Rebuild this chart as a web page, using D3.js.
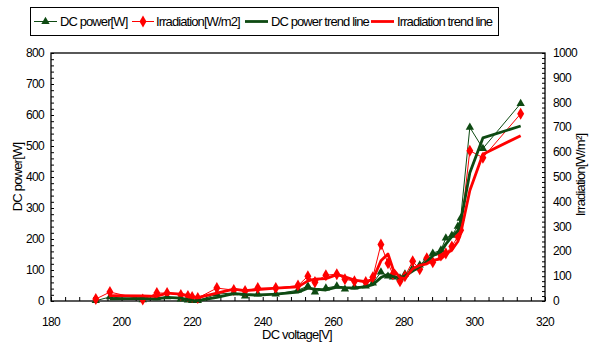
<!DOCTYPE html>
<html>
<head>
<meta charset="utf-8">
<script src="https://cdn.jsdelivr.net/npm/d3@7"></script>
<style>
  html, body { margin: 0; padding: 0; background: #fff; }
  svg { display: block; font-family: "Liberation Sans", Arial, sans-serif; }
</style>
</head>
<body>
<svg id="chart" width="590" height="346"></svg>
<script>
// ---- data ----
const voltage = [192.7, 196.7, 206.0, 210.0, 212.9, 216.8, 218.8, 220.0, 221.6, 227.0,
                 231.8, 235.0, 238.6, 243.7, 250.0, 252.8, 254.8, 257.9, 261.0, 263.3,
                 266.0, 269.2, 271.2, 273.5, 275.5, 276.9, 278.9, 280.3, 282.5, 284.5,
                 286.5, 288.2, 290.5, 291.9, 293.6, 295.3, 296.1, 298.7, 302.4, 313.1];
const dcPower = [1, 13, 4, 10, 13, 6, 3, 1, 1, 22,
                 26, 16, 22, 22, 35, 48, 29, 42, 48, 38,
                 45, 48, 58, 93, 80, 77, 74, 87, 106, 116,
                 138, 154, 164, 203, 212, 241, 267, 560, 492, 637];
const irradiation = [8, 36, 6, 32, 32, 24, 20, 16, 12, 52,
                     44, 40, 52, 52, 62, 100, 76, 104, 108, 88,
                     80, 76, 96, 228, 152, 108, 80, 100, 160, 128,
                     172, 156, 184, 192, 220, 260, 285, 606, 578, 755];
const xTicks = [180, 200, 220, 240, 260, 280, 300, 320];
const yLeftTicks = [0, 100, 200, 300, 400, 500, 600, 700, 800];
const yRightTicks = [0, 100, 200, 300, 400, 500, 600, 700, 800, 900, 1000];
const legendLabels = ["DC power[W]", "Irradiation[W/m2]", "DC power trend line", "Irradiation trend line"];

// ---- layout ----
const L = 51, R = 545, T = 53, B = 301;
const green = "#0e4a12", red = "#ff0000";

const svg = d3.select("#chart");
const x = d3.scaleLinear().domain([180, 320]).range([L, R]);
const yL = d3.scaleLinear().domain([0, 800]).range([B, T]);
const yR = d3.scaleLinear().domain([0, 1000]).range([B, T]);

// Excel-style 2-period moving average trend lines
function movingAvg(vals) {
  const out = [];
  for (let i = 1; i < vals.length; i++) out.push({ v: voltage[i], y: (vals[i] + vals[i - 1]) / 2 });
  return out;
}
const pData = voltage.map((v, i) => ({ v, y: dcPower[i] }));
const iData = voltage.map((v, i) => ({ v, y: irradiation[i] }));
const pTrend = movingAvg(dcPower);
const iTrend = movingAvg(irradiation);

// ---- axes ----
const axisG = svg.append("g");
const tickFont = { size: "12px", ls: "-0.7px" };

const xAxis = d3.axisBottom(x).tickValues(d3.range(180, 321, 4)).tickSize(-4).tickFormat("");
axisG.append("g").attr("transform", `translate(0,${B})`).call(xAxis)
  .call(g => g.select(".domain").remove())
  .call(g => g.selectAll(".tick line").attr("stroke", "#000"));
axisG.append("g").selectAll("text").data(xTicks).join("text")
  .attr("x", d => x(d)).attr("y", 326).attr("text-anchor", "middle")
  .attr("font-size", tickFont.size).attr("letter-spacing", tickFont.ls).text(d => d);

const yLAxis = d3.axisLeft(yL).tickValues(d3.range(0, 801, 20)).tickSize(-3).tickFormat("");
axisG.append("g").attr("transform", `translate(${L},0)`).call(yLAxis)
  .call(g => g.select(".domain").remove())
  .call(g => g.selectAll(".tick line").attr("stroke", "#000"));
axisG.append("g").selectAll("text").data(yLeftTicks).join("text")
  .attr("x", 44).attr("y", d => yL(d) + 4).attr("text-anchor", "end")
  .attr("font-size", tickFont.size).attr("letter-spacing", tickFont.ls).text(d => d);

const yRAxis = d3.axisRight(yR).tickValues(d3.range(0, 1001, 20)).tickSize(-3).tickFormat("");
axisG.append("g").attr("transform", `translate(${R},0)`).call(yRAxis)
  .call(g => g.select(".domain").remove())
  .call(g => g.selectAll(".tick line").attr("stroke", "#000"));
axisG.append("g").selectAll("text").data(yRightTicks).join("text")
  .attr("x", 553).attr("y", d => yR(d) + 4).attr("text-anchor", "start")
  .attr("font-size", tickFont.size).attr("letter-spacing", tickFont.ls).text(d => d);

svg.append("rect").attr("x", L).attr("y", T).attr("width", R - L).attr("height", B - T)
  .attr("fill", "none").attr("stroke", "#000").attr("stroke-width", 1.3);

svg.append("text").attr("x", 297).attr("y", 339).attr("text-anchor", "middle")
  .attr("font-size", "13px").attr("letter-spacing", "-0.8px").text("DC voltage[V]");
svg.append("text").attr("transform", "translate(22,177) rotate(-90)").attr("text-anchor", "middle")
  .attr("font-size", "13px").attr("letter-spacing", "-0.8px").text("DC power[W]");
svg.append("text").attr("transform", "translate(585,175) rotate(-90)").attr("text-anchor", "middle")
  .attr("font-size", "13px").attr("letter-spacing", "-0.8px").text("Irradiation[W/m²]");

// ---- series ----
const plot = svg.append("g");
const lineP = d3.line().x(d => x(d.v)).y(d => yL(d.y));
const lineI = d3.line().x(d => x(d.v)).y(d => yR(d.y));

const triangle = d3.symbol().type(d3.symbolTriangle).size(30);
const diamond = d3.symbol().type(d3.symbolDiamond).size(42);

plot.append("path").datum(pData).attr("d", lineP).attr("fill", "none").attr("stroke", green).attr("stroke-width", 1);
plot.append("g").selectAll("path").data(pData).join("path")
  .attr("transform", d => `translate(${x(d.v)},${yL(d.y)})`).attr("d", triangle).attr("fill", green);

plot.append("path").datum(iData).attr("d", lineI).attr("fill", "none").attr("stroke", red).attr("stroke-width", 1);
plot.append("g").selectAll("path").data(iData).join("path")
  .attr("transform", d => `translate(${x(d.v)},${yR(d.y)})`).attr("d", diamond).attr("fill", red);

plot.append("path").datum(pTrend).attr("d", lineP).attr("fill", "none").attr("stroke", green)
  .attr("stroke-width", 2.8).attr("stroke-linejoin", "round");
plot.append("path").datum(iTrend).attr("d", lineI).attr("fill", "none").attr("stroke", red)
  .attr("stroke-width", 2.8).attr("stroke-linejoin", "round");

// ---- legend ----
const lg = svg.append("g");
lg.append("rect").attr("x", 30.5).attr("y", 7.5).attr("width", 468).attr("height", 28)
  .attr("fill", "#fff").attr("stroke", "#000").attr("stroke-width", 1);
const ly = 21.5;
const items = [
  { x1: 34, x2: 57, color: green, w: 1, marker: triangle, tx: 60 },
  { x1: 132, x2: 154, color: red, w: 1, marker: diamond, tx: 156 },
  { x1: 245, x2: 268, color: green, w: 2.8, marker: null, tx: 271 },
  { x1: 371, x2: 394, color: red, w: 2.8, marker: null, tx: 397 }
];
items.forEach((it, i) => {
  lg.append("line").attr("x1", it.x1).attr("x2", it.x2).attr("y1", ly).attr("y2", ly)
    .attr("stroke", it.color).attr("stroke-width", it.w);
  if (it.marker) lg.append("path").attr("transform", `translate(${(it.x1 + it.x2) / 2},${ly})`)
    .attr("d", it.marker).attr("fill", it.color);
  lg.append("text").attr("x", it.tx).attr("y", 26).attr("font-size", "13px")
    .attr("letter-spacing", "-0.9px").text(legendLabels[i]);
});
</script>
</body>
</html>
